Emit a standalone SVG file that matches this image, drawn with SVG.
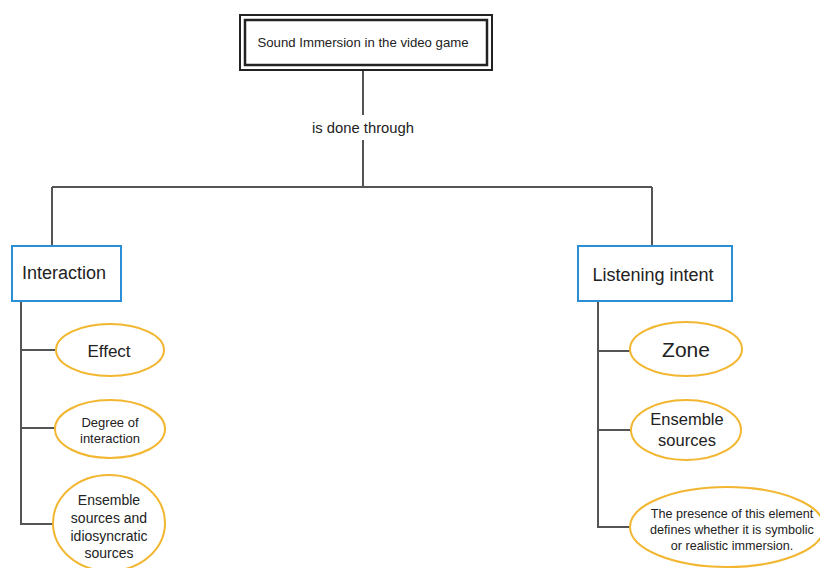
<svg xmlns="http://www.w3.org/2000/svg" width="820" height="568" viewBox="0 0 820 568">
<style>
text{font-family:"Liberation Sans",Arial,sans-serif;fill:#222;text-anchor:middle}
.ln{stroke:#555;stroke-width:2;fill:none}
.box{fill:#fff;stroke:#2b8fd6;stroke-width:2}
.ell{fill:#fff;stroke:#f2b630;stroke-width:2}
</style>
<rect width="820" height="568" fill="#fff"/>
<g id="connectors">
<path class="ln" d="M363 70V115M363 140V187M52 187H652M52 187V246M652 187V246"/>
<path class="ln" d="M21 301V524H53M21 350H55M21 428H55"/>
<path class="ln" d="M598 301V527H630M598 351H630M598 430H631"/>
</g>
<g id="label"><text x="363" y="133" font-size="14.8">is done through</text></g>
<g id="root">
<rect x="240" y="15" width="252" height="55" fill="#fff" stroke="#222" stroke-width="2"/>
<rect x="245" y="20" width="242" height="45" fill="#fff" stroke="#222" stroke-width="2.5"/>
<text x="363" y="47" font-size="13.2">Sound Immersion in the video game</text>
</g>
<g id="interaction">
<rect class="box" x="12" y="246" width="109" height="55"/>
<text x="64" y="279" font-size="18">Interaction</text>
</g>
<g id="listening">
<rect class="box" x="578" y="246" width="154" height="55"/>
<text x="653" y="281" font-size="18">Listening intent</text>
</g>
<g id="effect">
<ellipse class="ell" cx="110" cy="350" rx="54" ry="26"/>
<text x="109" y="357" font-size="17">Effect</text>
</g>
<g id="degree">
<ellipse class="ell" cx="110" cy="429" rx="55" ry="29"/>
<text x="110" y="427" font-size="13">Degree of</text>
<text x="110" y="443" font-size="13">interaction</text>
</g>
<g id="ensemble-idio">
<ellipse class="ell" cx="109" cy="523" rx="56" ry="48"/>
<text x="109" y="505" font-size="14">Ensemble</text>
<text x="109" y="523" font-size="14">sources and</text>
<text x="109" y="541" font-size="14">idiosyncratic</text>
<text x="109" y="558" font-size="14">sources</text>
</g>
<g id="zone">
<ellipse class="ell" cx="686" cy="349" rx="56" ry="27"/>
<text x="686" y="357" font-size="21">Zone</text>
</g>
<g id="ensemble">
<ellipse class="ell" cx="686" cy="430" rx="55" ry="30"/>
<text x="687" y="425" font-size="16.5">Ensemble</text>
<text x="687" y="446" font-size="16.5">sources</text>
</g>
<g id="presence">
<ellipse class="ell" cx="727" cy="527" rx="97" ry="40"/>
<text x="732" y="518" font-size="12.6">The presence of this element</text>
<text x="732" y="534" font-size="12.6">defines whether it is symbolic</text>
<text x="732" y="550" font-size="12.6">or realistic immersion.</text>
</g>
</svg>
